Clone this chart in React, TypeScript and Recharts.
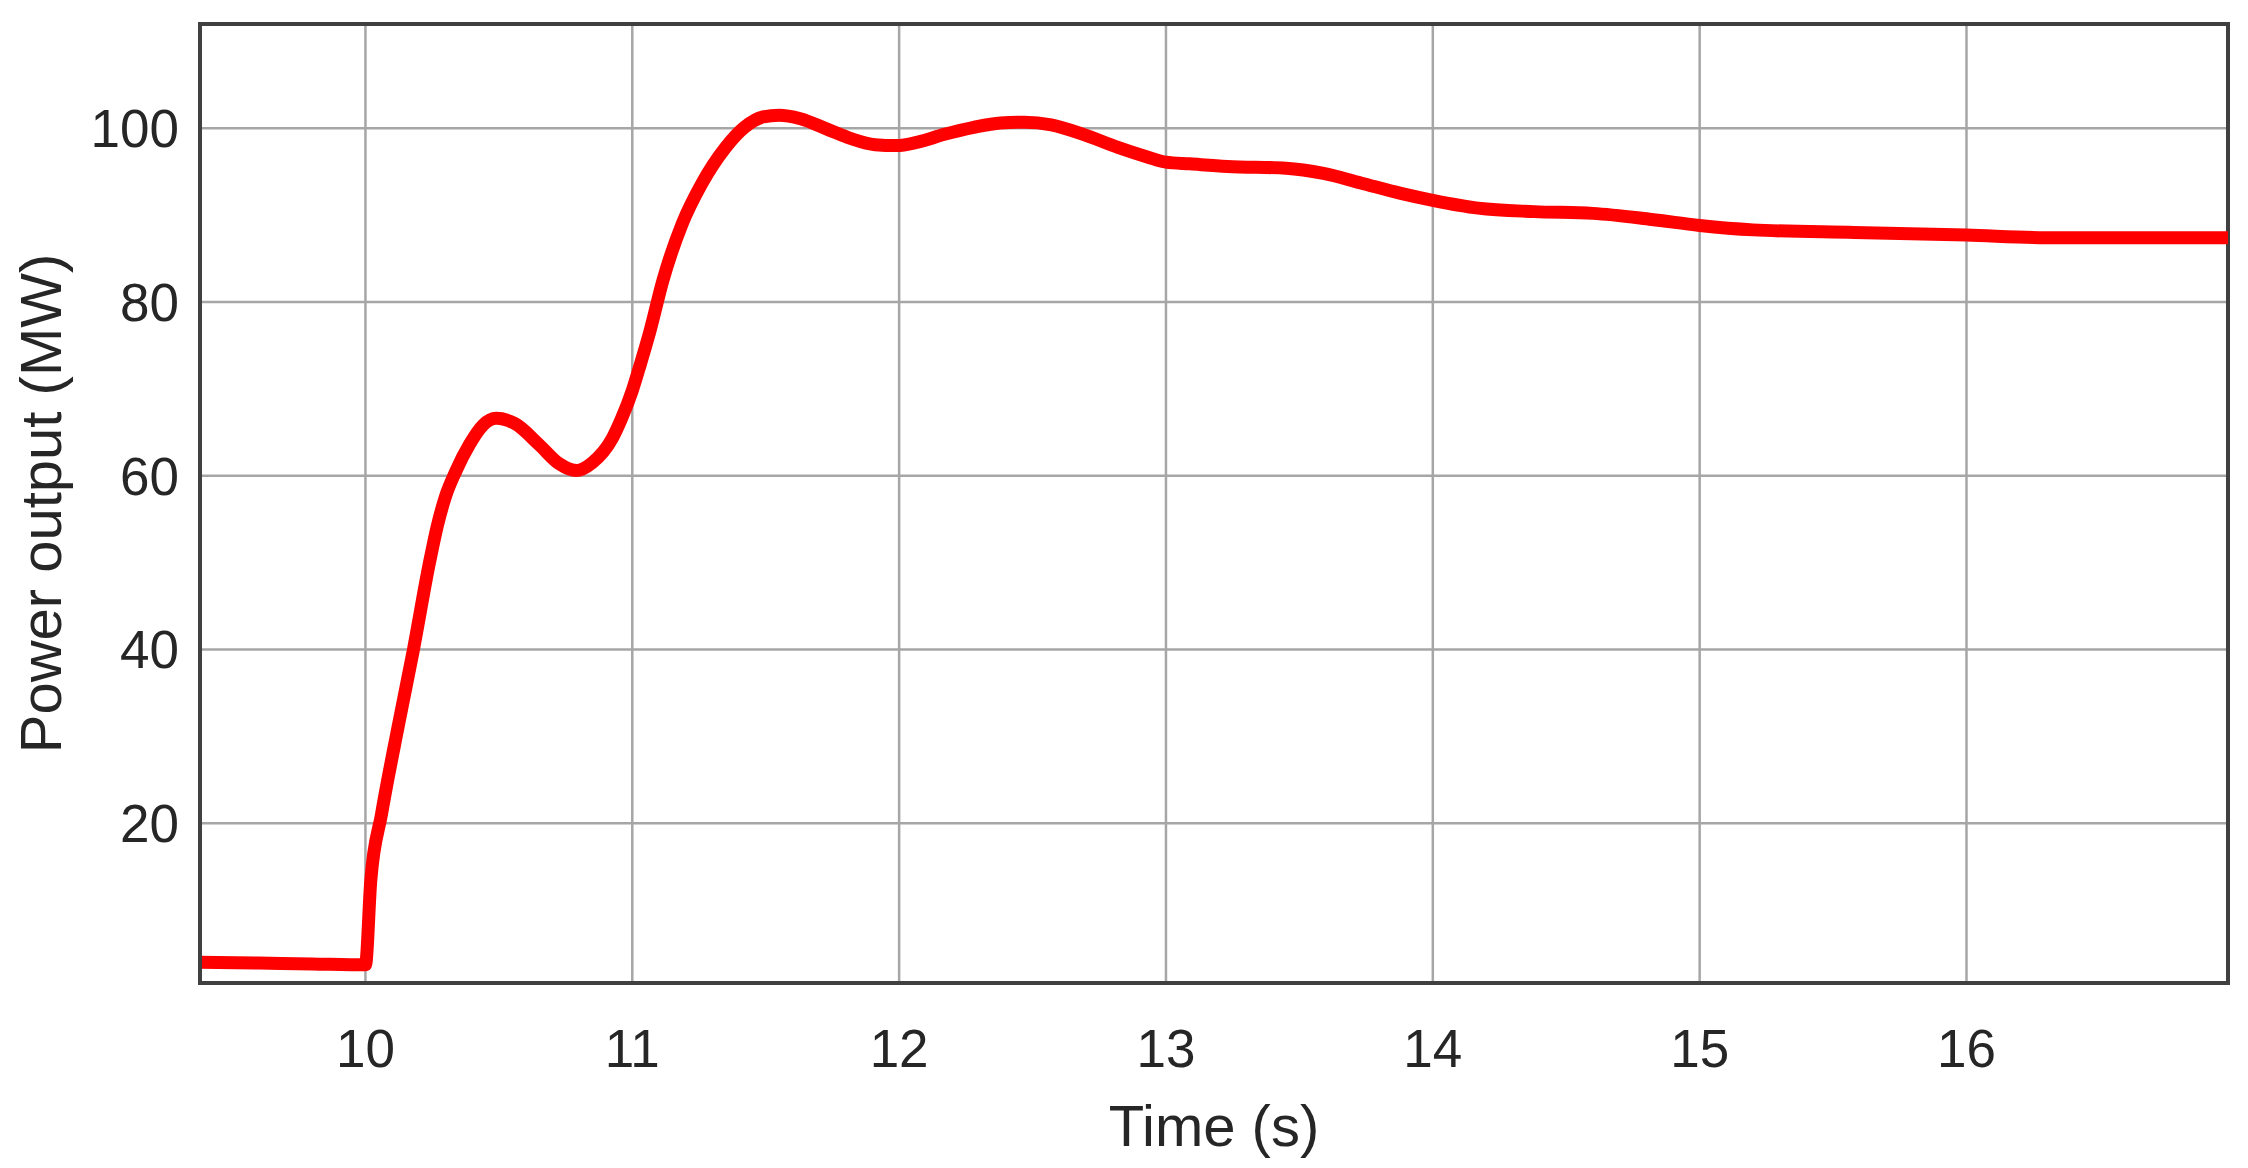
import React from "react"
import { CartesianGrid, Line, LineChart, ReferenceArea, XAxis, YAxis } from "recharts"

const time = [
  9.38, 9.6, 9.8, 10.0, 10.02, 10.06, 10.125, 10.18, 10.24, 10.27, 10.3, 10.34, 10.39, 10.44, 10.49,
  10.56, 10.65, 10.725, 10.79, 10.85, 10.925, 10.96, 11.0, 11.03, 11.065, 11.115, 11.187, 11.26, 11.35, 11.42,
  11.49, 11.55, 11.63, 11.73, 11.82, 11.91, 11.99, 12.07, 12.17, 12.28, 12.38, 12.47, 12.57,
  12.69, 12.82, 12.93, 13.0, 13.09, 13.23, 13.45, 13.59, 13.73, 13.88, 14.0, 14.17, 14.38, 14.6,
  14.82, 15.0, 15.2, 15.58, 16.0, 16.3, 16.6, 16.98,
]

const power = [
  4.0, 3.9, 3.8, 3.7, 13.4, 21.0, 31.5, 40.0, 50.0, 54.3, 57.6, 60.6, 63.6, 65.8, 66.6,
  66.0, 63.6, 61.4, 60.6, 61.5, 64.3, 66.6, 69.8, 72.8, 76.5, 82.5, 89.0, 93.6, 97.8, 100.1,
  101.3, 101.5, 101.1, 99.9, 98.8, 98.1, 98.0, 98.4, 99.3, 100.1, 100.6, 100.7, 100.4,
  99.3, 97.8, 96.7, 96.1, 95.9, 95.6, 95.4, 94.8, 93.7, 92.5, 91.7, 90.8, 90.4, 90.2,
  89.5, 88.8, 88.3, 88.0, 87.7, 87.4, 87.4, 87.4,
]

const xTicks = [10, 11, 12, 13, 14, 15, 16]
const yTicks = [20, 40, 60, 80, 100]

const xDomain = [9.38, 16.98]
const yDomain = [1.6, 112]

const data = time.map((t, i) => ({ t, p: power[i] }))

const textColor = "#262626"
const font = "'Liberation Sans', Arial, sans-serif"

function XLabel(props: any) {
  const vb = props.viewBox
  return (
    <text
      x={vb.x + vb.width / 2}
      y={1117}
      textAnchor="middle"
      dominantBaseline="central"
      fontSize={58}
      fill={textColor}
      fontFamily={font}
    >
      Time (s)
    </text>
  )
}

function YLabel(props: any) {
  const vb = props.viewBox
  const cx = 32
  const cy = vb.y + vb.height / 2
  return (
    <text
      x={cx}
      y={cy}
      transform={`rotate(-90, ${cx}, ${cy})`}
      textAnchor="middle"
      dominantBaseline="central"
      fontSize={58}
      fill={textColor}
      fontFamily={font}
    >
      Power output (MW)
    </text>
  )
}

export default function App() {
  return (
    <LineChart
      width={2232}
      height={1152}
      data={data}
      margin={{ top: 16, right: 12, left: 0, bottom: 0 }}
    >
      <CartesianGrid stroke="#a6a6a6" strokeWidth={2.5} />
      <XAxis
        dataKey="t"
        type="number"
        domain={xDomain}
        ticks={xTicks}
        allowDataOverflow
        height={177}
        tickSize={0}
        tickMargin={46}
        tickLine={false}
        axisLine={{ stroke: "#404040", strokeWidth: 4 }}
        tick={{ fontSize: 53, fill: textColor, fontFamily: font }}
        label={<XLabel />}
      />
      <YAxis
        type="number"
        domain={yDomain}
        ticks={yTicks}
        allowDataOverflow
        width={192}
        tickSize={0}
        tickMargin={21}
        tickLine={false}
        axisLine={{ stroke: "#404040", strokeWidth: 4 }}
        tick={{ fontSize: 53, fill: textColor, fontFamily: font }}
        label={<YLabel />}
      />
      <ReferenceArea
        x1={xDomain[0]}
        x2={xDomain[1]}
        y1={yDomain[0]}
        y2={yDomain[1]}
        fill="none"
        stroke="#404040"
        strokeWidth={4}
        ifOverflow="extendDomain"
      />
      <Line
        type="monotone"
        dataKey="p"
        stroke="#ff0000"
        strokeWidth={13}
        dot={false}
        activeDot={false}
        isAnimationActive={false}
      />
    </LineChart>
  )
}
